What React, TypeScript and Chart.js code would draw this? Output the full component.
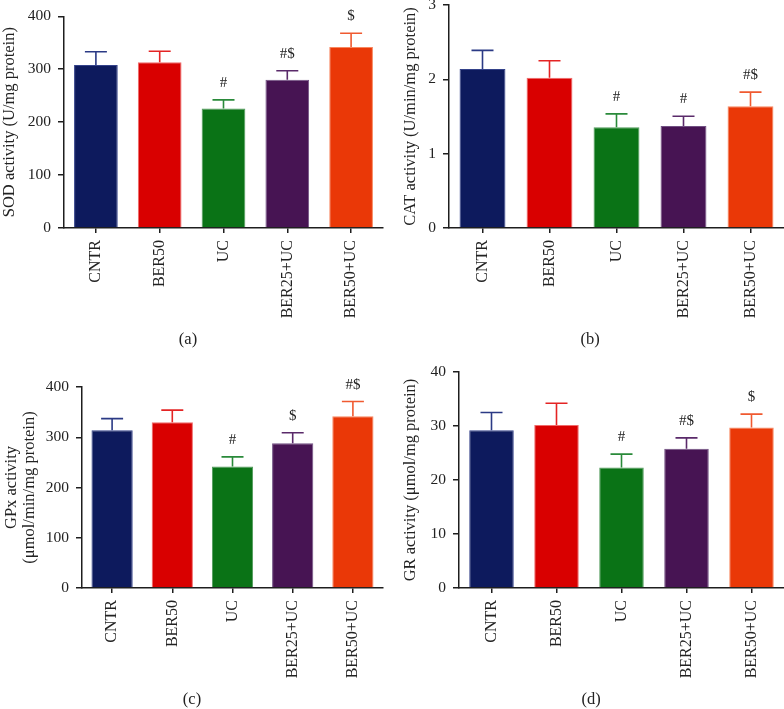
import React, { useEffect, useRef } from "react";
import { Chart, registerables } from "chart.js";

Chart.register(...registerables);

// ---------- data ----------
const categories = ["CNTR", "BER50", "UC", "BER25+UC", "BER50+UC"];

const sodMean = [308, 313, 226, 280, 342];
const sodSD = [25, 21, 16, 17, 26];
const sodMarks = ["", "", "#", "#$", "$"];

const catMean = [2.14, 2.02, 1.355, 1.373, 1.638];
const catSD = [0.25, 0.23, 0.18, 0.13, 0.19];
const catMarks = ["", "", "#", "#", "#$"];

const gpxMean = [314, 330, 242, 288, 342];
const gpxSD = [23, 24, 19, 21, 29];
const gpxMarks = ["", "", "#", "$", "#$"];

const grMean = [29.2, 30.2, 22.3, 25.8, 29.7];
const grSD = [3.3, 4.0, 2.5, 2.0, 2.5];
const grMarks = ["", "", "#", "#$", "$"];

// ---------- styles ----------
const barColors = ["#0d1a5d", "#d90000", "#0a7316", "#471453", "#ea3807"];
const borderColors = ["#34428a", "#f06a6a", "#4f9a5a", "#715083", "#f8875f"];
const errorColors = ["#2b3a85", "#e42424", "#2a8a3a", "#5a2a6a", "#f05a30"];
const axisColor = "#1e1e1e";
const textColor = "#222222";
const FONT = "'Liberation Serif', 'Times New Roman', serif";

type PanelDef = {
  mean: number[];
  sd: number[];
  marks: string[];
  yMax: number;
  yStep: number;
  title: string | string[];
  titleLH: number;
  titlePad: number;
  label: string;
  left: number;
  top: number;
  width: number;
  height: number;
  yWidth: number;
  xHeight: number;
  padTop: number;
  padRight: number;
  labelX: number;
  labelY: number;
};

const panels: PanelDef[] = [
  {
    mean: sodMean, sd: sodSD, marks: sodMarks, yMax: 400, yStep: 100,
    title: "SOD activity (U/mg protein)", titleLH: 1.2, titlePad: 0, label: "(a)",
    left: 0, top: 0, width: 392, height: 350,
    yWidth: 64, xHeight: 122, padTop: 16, padRight: 9, labelX: 188, labelY: 340,
  },
  {
    mean: catMean, sd: catSD, marks: catMarks, yMax: 3, yStep: 1,
    title: "CAT activity (U/min/mg protein)", titleLH: 1.2, titlePad: 9, label: "(b)",
    left: 392, top: -12, width: 392, height: 362,
    yWidth: 57, xHeight: 122, padTop: 17, padRight: 0, labelX: 198, labelY: 352,
  },
  {
    mean: gpxMean, sd: gpxSD, marks: gpxMarks, yMax: 400, yStep: 100,
    title: ["GPx activity", "(\u03bcmol/min/mg protein)"], titleLH: 1.1, titlePad: 2.6, label: "(c)",
    left: 0, top: 350, width: 392, height: 359,
    yWidth: 82, xHeight: 121, padTop: 37, padRight: 9, labelX: 192, labelY: 350,
  },
  {
    mean: grMean, sd: grSD, marks: grMarks, yMax: 40, yStep: 10,
    title: "GR activity (\u03bcmol/mg protein)", titleLH: 1.2, titlePad: 9, label: "(d)",
    left: 392, top: 350, width: 392, height: 359,
    yWidth: 67, xHeight: 121, padTop: 22, padRight: 0, labelX: 199, labelY: 350,
  },
];

function Panel({ p }: { p: PanelDef }) {
  const ref = useRef<HTMLCanvasElement>(null);

  useEffect(() => {
    if (!ref.current) return;
    const errPlugin = {
      id: "errbars",
      afterDatasetsDraw(chart: any) {
        const ctx = chart.ctx;
        const meta = chart.getDatasetMeta(0);
        const ys = chart.scales.y;
        ctx.save();
        meta.data.forEach((bar: any, i: number) => {
          const x = bar.x;
          const yb = ys.getPixelForValue(p.mean[i]);
          const yt = ys.getPixelForValue(p.mean[i] + p.sd[i]);
          ctx.strokeStyle = errorColors[i];
          ctx.lineWidth = 1.6;
          ctx.beginPath();
          ctx.moveTo(x, yb);
          ctx.lineTo(x, yt);
          ctx.moveTo(x - 11, yt);
          ctx.lineTo(x + 11, yt);
          ctx.stroke();
          if (p.marks[i]) {
            ctx.fillStyle = textColor;
            ctx.font = `15px ${FONT}`;
            ctx.textAlign = "center";
            ctx.textBaseline = "middle";
            ctx.fillText(p.marks[i], x, yt - 17);
          }
        });
        ctx.fillStyle = textColor;
        ctx.font = `16.5px ${FONT}`;
        ctx.textAlign = "center";
        ctx.textBaseline = "middle";
        ctx.fillText(p.label, p.labelX, p.labelY);
        ctx.restore();
      },
    };

    const chart = new Chart(ref.current, {
      type: "bar",
      data: {
        labels: categories,
        datasets: [
          {
            data: p.mean,
            backgroundColor: barColors,
            borderColor: borderColors,
            borderWidth: 1,
            categoryPercentage: 1,
            barPercentage: 0.685,
          },
        ],
      },
      options: {
        animation: false,
        responsive: false,
        maintainAspectRatio: false,
        layout: { padding: { top: p.padTop, right: p.padRight, left: 0, bottom: 0 } },
        plugins: {
          legend: { display: false },
          tooltip: { enabled: false },
          title: { display: false },
        },
        scales: {
          x: {
            type: "category",
            offset: true,
            grid: {
              display: true,
              drawOnChartArea: false,
              drawTicks: true,
              tickLength: 5,
              offset: false,
              color: axisColor,
              lineWidth: 1.5,
            },
            border: { display: true, color: axisColor, width: 1.5 },
            ticks: {
              font: { family: FONT, size: 16 },
              color: textColor,
              padding: 7,
              minRotation: 90,
              maxRotation: 90,
              autoSkip: false,
            },
            afterFit: (s: any) => {
              s.height = p.xHeight;
            },
          },
          y: {
            min: 0,
            max: p.yMax,
            grid: {
              drawOnChartArea: false,
              drawTicks: true,
              tickLength: 6,
              color: axisColor,
              lineWidth: 1.5,
            },
            border: { display: true, color: axisColor, width: 1.5 },
            ticks: {
              stepSize: p.yStep,
              font: { family: FONT, size: 15.5 },
              color: textColor,
              padding: 7,
            },
            title: {
              display: true,
              text: p.title,
              color: textColor,
              font: { family: FONT, size: 16.5, lineHeight: p.titleLH },
              padding: { top: p.titlePad, bottom: 0 },
            },
            afterFit: (s: any) => {
              s.width = p.yWidth;
            },
          },
        },
      } as any,
      plugins: [errPlugin],
    });
    return () => chart.destroy();
  }, [p]);

  return (
    <canvas
      ref={ref}
      width={p.width}
      height={p.height}
      style={{
        position: "absolute",
        left: p.left,
        top: p.top,
        width: p.width,
        height: p.height,
      }}
    />
  );
}

export default function App() {
  return (
    <div
      style={{
        position: "absolute",
        left: 0,
        top: 0,
        width: 784,
        height: 709,
        overflow: "hidden",
        background: "#ffffff",
      }}
    >
      {panels.map((p) => (
        <Panel key={p.label} p={p} />
      ))}
    </div>
  );
}
